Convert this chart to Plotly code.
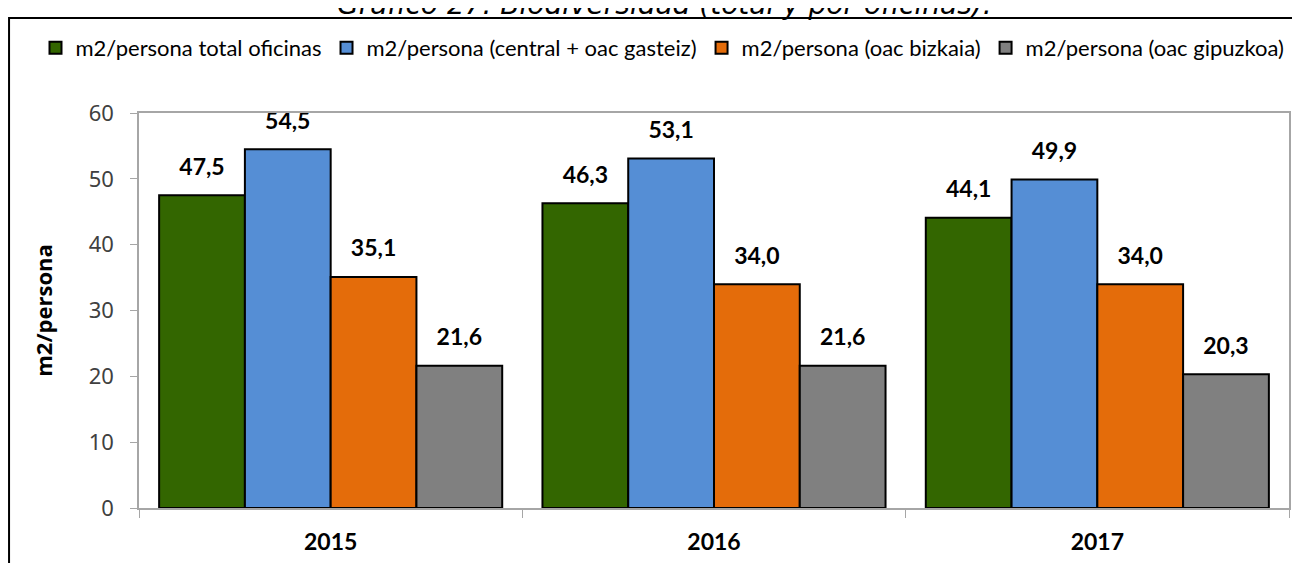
import plotly.graph_objects as go

years = ["2015", "2016", "2017"]
total = [47.5, 46.3, 44.1]
central = [54.5, 53.1, 49.9]
bizkaia = [35.1, 34.0, 34.0]
gipuzkoa = [21.6, 21.6, 20.3]

names = ["m2/persona total oficinas", "m2/persona (central + oac gasteiz)",
         "m2/persona (oac bizkaia)", "m2/persona (oac gipuzkoa)"]
colors = ["#336600", "#558ED5", "#E46C0A", "#808080"]
series = [total, central, bizkaia, gipuzkoa]

fig = go.Figure()

for name, color, vals in zip(names, colors, series):
    fig.add_trace(go.Bar(x=years, y=vals, name=name, marker_color=color,
                         marker_line=dict(color="black", width=2)))

# value labels, grouped like the bars
for vals in series:
    fig.add_trace(go.Scatter(
        x=years, y=vals, mode="markers+text", showlegend=False,
        marker=dict(size=22, opacity=0),
        text=[f"{v:.1f}".replace(".", ",") for v in vals],
        textposition="top center", hoverinfo="skip", cliponaxis=False,
        textfont=dict(family="Lato", size=23, color="black", weight="bold")))

fig.add_annotation(text="<i>Gráfico 27. Biodiversidad (total y por oficinas).</i>",
                   xref="paper", yref="paper", x=0.457, y=1.229,
                   xanchor="center", yanchor="bottom", showarrow=False,
                   font=dict(family="DejaVu Sans", size=28, color="black"))

fig.add_shape(type="rect", xref="paper", yref="paper",
              x0=-0.113, x1=1.007, y0=-0.3, y1=1.2405,
              line=dict(color="black", width=2), layer="below")

fig.update_layout(
    width=1292, height=555,
    margin=dict(l=131, r=11, t=105, b=55),
    paper_bgcolor="white", plot_bgcolor="white",
    barmode="group", bargap=0.105, bargroupgap=0,
    scattermode="group", scattergap=0.105,
    font=dict(family="Lato", color="black"),
    legend=dict(orientation="h", x=-0.09, xanchor="left",
                y=1.1646, yanchor="middle", font=dict(size=22, family="Lato"),
                itemwidth=30, traceorder="normal", bgcolor="rgba(0,0,0,0)"),
    showlegend=True,
)

fig.update_xaxes(showline=True, linecolor="#A6A6A6", linewidth=1.5, mirror=True,
                 ticks="outside", ticklen=8, tickcolor="#A6A6A6",
                 tickson="boundaries", showgrid=False, automargin=False,
                 ticklabelstandoff=13,
                 tickfont=dict(family="Lato", size=23, color="black", weight="bold"))
fig.update_yaxes(range=[0, 60], dtick=10, showline=True, linecolor="#A6A6A6",
                 linewidth=1.5, mirror=True, ticks="outside", ticklen=7,
                 tickcolor="#A6A6A6", showgrid=False, zeroline=False,
                 automargin=False, ticklabelstandoff=12,
                 tickfont=dict(family="Noto Sans", size=22, color="#404040"),
                 title=dict(text="<b>m2/persona</b>", standoff=30,
                            font=dict(family="Open Sans", size=22, color="black")))

fig.write_html("out.html")
